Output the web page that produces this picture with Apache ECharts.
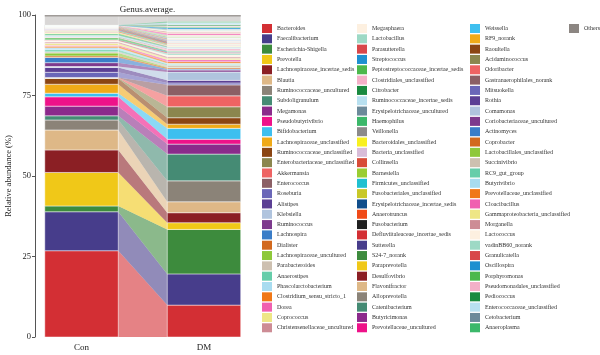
<!DOCTYPE html>
<html><head><meta charset="utf-8">
<script src="https://cdn.jsdelivr.net/npm/echarts@6/dist/echarts.min.js"></script>
<style>html,body{margin:0;padding:0;background:#fff}#c{width:600px;height:355px}</style>
</head><body><div id="c"></div>
<script>
const groups = ['Con', 'DM'];
const yTicks = [0, 25, 50, 75, 100];
const genera = [
 'Bacteroides','Faecalibacterium','Escherichia-Shigella','Prevotella','Lachnospiraceae_incertae_sedis',
 'Blautia','Ruminococcaceae_uncultured','Subdoligranulum','Megamonas','Pseudobutyrivibrio',
 'Bifidobacterium','Lachnospiraceae_unclassified','Ruminococcaceae_unclassified','Enterobacteriaceae_unclassified','Akkermansia',
 'Enterococcus','Roseburia','Alistipes','Klebsiella','Ruminococcus',
 'Lachnospira','Dialister','Lachnospiraceae_uncultured','Parabacteroides','Anaerostipes',
 'Phascolarctobacterium','Clostridium_sensu_stricto_1','Dorea','Coprococcus','Christensenellaceae_uncultured',
 'Megasphaera','Lactobacillus','Parasutterella','Streptococcus','Peptostreptococcaceae_incertae_sedis',
 'Clostridiales_unclassified','Citrobacter','Ruminococcaceae_incertae_sedis','Erysipelotrichaceae_uncultured','Haemophilus',
 'Veillonella','Bacteroidales_unclassified','Bacteria_unclassified','Collinsella','Barnesiella',
 'Firmicutes_unclassified','Fusobacteriales_unclassified','Erysipelotrichaceae_incertae_sedis','Anaerotruncus','Fusobacterium',
 'Defluviitaleaceae_incertae_sedis','Sutterella','S24-7_norank','Paraprevotella','Desulfovibrio',
 'Flavonifractor','Alloprevotella','Catenibacterium','Butyricimonas','Prevotellaceae_uncultured',
 'Weissella','RF9_norank','Raoultella','Acidaminococcus','Odoribacter',
 'Gastranaerophilales_norank','Mitsuokella','Rothia','Comamonas','Coriobacteriaceae_uncultured',
 'Actinomyces','Coprobacter','Lactobacillales_unclassified','Succinivibrio','RC9_gut_group',
 'Butyrivibrio','Prevotellaceae_unclassified','Cloacibacillus','Gammaproteobacteria_unclassified','Morganella',
 'Lactococcus','vadinBB60_norank','Granulicatella','Oscillospira','Porphyromonas',
 'Pseudomonadales_unclassified','Pediococcus','Enterococcaceae_unclassified','Cetobacterium','Anaeroplasma',
 'Others'
];
const conValues = [
 26.8, 12.1, 1.8, 10.4, 7.0, 6.2, 3.1, 1.3, 3.0, 2.9,
 1.1, 2.8, 1.8, 0.1, 0.1, 0.1, 1.6, 1.5, 0.3, 1.2,
 1.6, 0.5, 0.9, 0.4, 0.6, 0.6, 0.5, 0.3, 0.6, 0.4,
 0.3, 0.1, 0.2, 0.1, 0.6, 0.3, 0.05, 0.4, 0.1, 0.4,
 0.1, 0.2, 0.2, 0.2, 0.2, 0.1, 0.05, 0.1, 0.1, 0.02,
 0.1, 0.1, 0.1, 0.1, 0.05, 0.05, 0.05, 0.05, 0.05, 0.05,
 0.03, 0.05, 0.02, 0.03, 0.05, 0.03, 0.02, 0.02, 0.03, 0.03,
 0.02, 0.03, 0.03, 0.02, 0.03, 0.03, 0.02, 0.03, 0.03, 0.02,
 0.03, 0.03, 0.02, 0.03, 0.02, 0.02, 0.02, 0.03, 0.02, 0.02,
 3.07
];
const dmValues = [
 9.9, 9.7, 13.8, 2.1, 3.1, 3.4, 6.5, 8.3, 3.1, 1.5,
 3.4, 1.3, 2.0, 3.4, 3.4, 3.4, 0.6, 0.8, 2.6, 0.6,
 0.3, 0.4, 0.2, 0.6, 0.3, 0.3, 0.5, 0.6, 0.5, 0.4,
 0.6, 0.5, 0.3, 0.3, 0.2, 0.6, 0.1, 0.3, 0.2, 0.1,
 0.1, 0.1, 0.2, 0.1, 0.1, 0.1, 0.1, 0.1, 0.2, 0.05,
 0.05, 0.1, 0.1, 0.05, 0.1, 0.1, 0.05, 0.1, 0.05, 0.1,
 0.2, 0.1, 0.05, 0.05, 0.1, 0.05, 0.05, 0.05, 0.1, 0.05,
 0.05, 0.05, 0.2, 0.2, 0.2, 0.1, 0.05, 0.5, 0.3, 0.3,
 0.3, 0.3, 0.05, 0.5, 0.3, 0.3, 0.4, 0.5, 0.15, 0.3,
 2.0
];
const palette = [
 '#d32f34','#473d8b','#3d8b3d','#f0c818','#8b1f24','#deb887','#8b8378','#458b74','#8b2a8b','#ee1289',
 '#3ebfef','#f0aa18','#8b4513','#8b864e','#ee6363','#8b5f65','#6a66b8','#5b3f94','#b0c4de','#7d3a8d',
 '#3a7dc8','#d2691e','#8ec83a','#cdc0b0','#66cdaa','#a8dcf0','#f07818','#f060b0','#eee685','#cd8c95',
 '#fdf0e0','#9dd9c5','#d8474a','#1e90d0','#4cb84c','#f4b0c8','#1a8a40','#b8e0f0','#6c8a9a','#3cb86a',
 '#8c8a8a','#f8f020','#d8bcd8','#d84c38','#9acd32','#20c0d0','#c8c828','#104e8b','#f04a18','#202020'
];
const othersColor = '#8c8682';

const lastIdx = genera.length - 1;
const colorOf = i => (i === lastIdx ? othersColor : palette[i % palette.length]);
function cum(vals) { const lo = [], hi = []; let s = 0; vals.forEach(v => { lo.push(s); s += v; hi.push(s); }); return [lo, hi]; }
const [conLo, conHi] = cum(conValues);
const [dmLo, dmHi] = cum(dmValues);

const FONT = 'Liberation Serif';
const series = genera.map((name, k) => ({
  name, type: 'custom', coordinateSystem: 'cartesian2d',
  itemStyle: { color: colorOf(k) },
  data: [[1, conHi[k]]],
  silent: true, clip: false,
  renderItem: (params, api) => {
    const col = colorOf(k);
    const isOthers = k === lastIdx;
    const barOpacity = isOthers ? 0.33 : 1;
    const a0 = api.coord([0.7, conLo[k]]), a1 = api.coord([1.3, conHi[k]]);
    const b0 = api.coord([1.7, dmLo[k]]), b1 = api.coord([2.3, dmHi[k]]);
    const children = [
      { type: 'polygon', z2: 0, shape: { points: [[a1[0], a0[1]], [a1[0], a1[1]], [b0[0], b1[1]], [b0[0], b0[1]]] },
        style: { fill: col, opacity: isOthers ? 0.3 : 0.6 } },
      { type: 'rect', z2: 10, shape: { x: a0[0], y: a1[1], width: a1[0] - a0[0], height: a0[1] - a1[1] },
        style: { fill: col, opacity: barOpacity, stroke: 'rgba(255,255,255,0.6)', lineWidth: 0.8 } },
      { type: 'rect', z2: 10, shape: { x: b0[0], y: b1[1], width: b1[0] - b0[0], height: b0[1] - b1[1] },
        style: { fill: col, opacity: barOpacity, stroke: 'rgba(255,255,255,0.6)', lineWidth: 0.8 } }
    ];
    if (isOthers) {
      children.push({ type: 'polyline', z2: 12,
        shape: { points: [[a0[0], a1[1] + 0.8], [a1[0], a1[1] + 0.8], [b0[0], b1[1] + 0.8], [b1[0], b1[1] + 0.8]] },
        style: { stroke: '#a09b98', lineWidth: 1.6, fill: null } });
    }
    return { type: 'group', children };
  }
}));

const legendBase = {
  orient: 'vertical', top: 24, itemWidth: 10, itemHeight: 9, itemGap: 1.32, icon: 'rect',
  selectedMode: false, padding: 0,
  textStyle: { fontFamily: FONT, fontSize: 6, color: '#333' }
};
const legendCols = [[0, 30, 262], [30, 60, 357], [60, 90, 470], [90, 91, 569]];

const chart = echarts.init(document.getElementById('c'), null, { renderer: 'canvas' });
chart.setOption({
  animation: false,
  backgroundColor: '#fff',
  title: { text: 'Genus.average.', left: 142.5, top: 0, textAlign: 'center',
    textStyle: { fontFamily: FONT, fontSize: 9, fontWeight: 'normal', color: '#222' } },
  grid: { left: 35, top: 15, width: 215.5, height: 322 },
  xAxis: { type: 'value', min: 0.62, max: 2.38,
    axisLine: { show: false }, axisTick: { show: false }, splitLine: { show: false },
    axisLabel: { customValues: [1, 2], formatter: v => groups[Math.round(v) - 1], margin: 6,
      fontFamily: FONT, fontSize: 9, color: '#222' } },
  yAxis: { type: 'value', min: 0, max: 100, interval: 25,
    name: 'Relative abundance (%)', nameLocation: 'middle', nameGap: 22,
    nameTextStyle: { fontFamily: FONT, fontSize: 8.5, color: '#222' },
    axisLine: { show: true, lineStyle: { color: '#555', width: 1 } },
    axisTick: { show: true, length: 3, lineStyle: { color: '#555' } },
    splitLine: { show: false },
    axisLabel: { margin: 4, fontFamily: FONT, fontSize: 8.5, color: '#222',
      formatter: v => (yTicks.includes(v) ? String(v) : '') } },
  legend: legendCols.map(([s, e, x]) => Object.assign({}, legendBase, { left: x, data: genera.slice(s, e) })),
  series
});
</script></body></html>
